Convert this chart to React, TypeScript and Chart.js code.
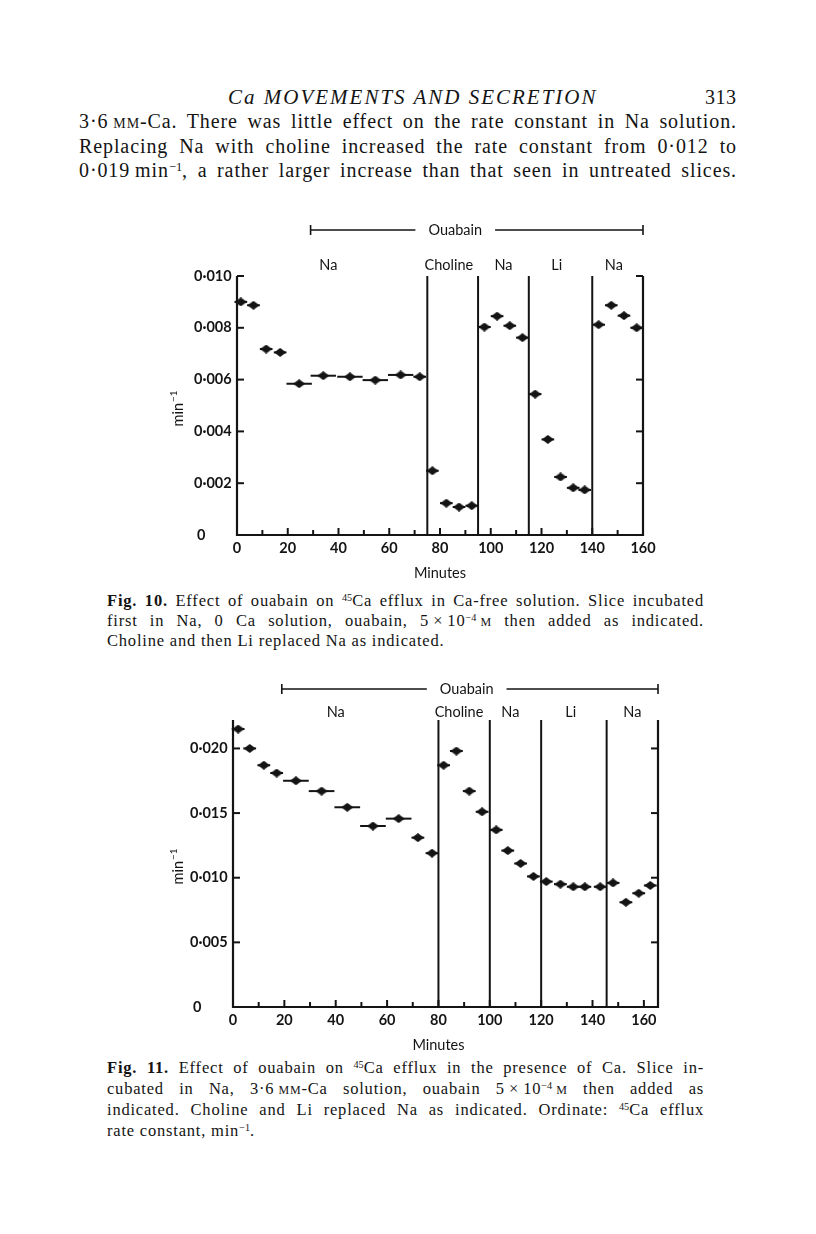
import React, { useEffect, useRef } from "react";
import { Chart, registerables } from "chart.js";

Chart.register(...registerables);

// ---------- Fig. 10 data (Ca-free solution) ----------
const fig10Minutes = [1.5, 6.5, 11.5, 17, 24.5, 34, 44.5, 54.5, 64.5, 72, 77, 82.5, 87.5, 92.5, 97.5, 102.5, 107.5, 112.5, 117.5, 122.5, 127.5, 132.5, 137, 142.5, 147.5, 152.5, 157.5];
const fig10Rate = [0.009, 0.00887, 0.00718, 0.00705, 0.00584, 0.00615, 0.00611, 0.00598, 0.00618, 0.00611, 0.00248, 0.00123, 0.00108, 0.00113, 0.00803, 0.00845, 0.00808, 0.00762, 0.00544, 0.00369, 0.00224, 0.00182, 0.00174, 0.00812, 0.00887, 0.00847, 0.008];
const fig10Period = [5, 5, 5, 5, 10, 10, 10, 10, 10, 5, 5, 5, 5, 5, 5, 5, 5, 5, 5, 5, 5, 5, 5, 5, 5, 5, 5];
const fig10Boundaries = [75, 95, 115, 140];
const fig10Regions = ["Na", "Choline", "Na", "Li", "Na"];
const fig10RegionCentres = [36, 83.5, 105, 126, 148.5];
const fig10YTicks = [0, 0.002, 0.004, 0.006, 0.008, 0.01];
const fig10YTickLabels = ["0", "0·002", "0·004", "0·006", "0·008", "0·010"];
const fig10RightTicks = [0.002, 0.004, 0.006, 0.008];
const fig10XLabels = [0, 20, 40, 60, 80, 100, 120, 140, 160];
const fig10XMinor = [10, 30, 50, 70, 90, 110, 130, 150];
const fig10Ouabain = [29, 160];
const fig10OuabainLabelAt = 86;

// ---------- Fig. 11 data (3.6 mM-Ca) ----------
const fig11Minutes = [2, 6.5, 12, 17, 24.5, 34.5, 44.5, 54.5, 64.5, 72, 77.5, 82, 87, 92, 97, 102.5, 107, 112, 117, 122, 127.5, 132.5, 137, 143, 148, 153, 158, 162.5];
const fig11Rate = [0.0215, 0.02, 0.0187, 0.0181, 0.0175, 0.0167, 0.01545, 0.014, 0.01457, 0.0131, 0.0119, 0.0187, 0.0198, 0.0167, 0.0151, 0.0137, 0.0121, 0.0111, 0.0101, 0.0097, 0.0095, 0.0093, 0.0093, 0.0093, 0.0096, 0.0081, 0.0088, 0.0094];
const fig11Period = [5, 5, 5, 5, 10, 10, 10, 10, 10, 5, 5, 5, 5, 5, 5, 5, 5, 5, 5, 5, 5, 5, 5, 5, 5, 5, 5, 5];
const fig11Boundaries = [80, 100, 120, 145.5];
const fig11Regions = ["Na", "Choline", "Na", "Li", "Na"];
const fig11RegionCentres = [40, 88, 108, 131.5, 155.5];
const fig11YTicks = [0, 0.005, 0.01, 0.015, 0.02];
const fig11YTickLabels = ["0", "0·005", "0·010", "0·015", "0·020"];
const fig11RightTicks = [0.005, 0.01, 0.015, 0.02];
const fig11XLabels = [0, 20, 40, 60, 80, 100, 120, 140, 160];
const fig11XMinor = [10, 30, 50, 70, 90, 110, 130, 150];
const fig11Ouabain = [19, 165.5];
const fig11OuabainLabelAt = 91;

const INK = "#141414";
const SANS = "Lato, 'Open Sans', sans-serif";

function makeDiamond(w: number, h: number) {
  const c = document.createElement("canvas");
  c.width = w;
  c.height = h;
  const g = c.getContext("2d")!;
  g.fillStyle = INK;
  g.beginPath();
  g.moveTo(w / 2, 0);
  g.lineTo(w, h / 2);
  g.lineTo(w / 2, h);
  g.lineTo(0, h / 2);
  g.closePath();
  g.fill();
  return c;
}

type PanelProps = {
  minutes: number[];
  rate: number[];
  period: number[];
  boundaries: number[];
  regions: string[];
  regionCentres: number[];
  yTicks: number[];
  yTickLabels: string[];
  rightTicks: number[];
  xLabels: number[];
  xMinor: number[];
  xMax: number;
  yMax: number;
  ouabain: number[];
  ouabainLabelAt: number;
  cornerTicks: boolean;
  left: number;
  top: number;
  width: number;
  height: number;
  padding: { left: number; right: number; top: number; bottom: number };
  regionDy: number;
  bracketDy: number;
  ylabelX: number;
};

function Panel(p: PanelProps) {
  const ref = useRef<HTMLCanvasElement>(null);
  useEffect(() => {
    const canvas = ref.current!;
    const framePlugin = {
      id: "frame",
      beforeDatasetsDraw(chart: any) {
        const ctx = chart.ctx as CanvasRenderingContext2D;
        const xs = chart.scales.x;
        const ys = chart.scales.y;
        const X = (v: number) => xs.getPixelForValue(v);
        const Y = (v: number) => ys.getPixelForValue(v);
        const x0 = X(0), x1 = X(p.xMax), y0 = Y(0), y1 = Y(p.yMax);
        ctx.save();
        ctx.strokeStyle = INK;
        ctx.fillStyle = INK;
        ctx.lineCap = "butt";
        // collection-period bars
        ctx.lineWidth = 2;
        p.minutes.forEach((m, i) => {
          const y = Y(p.rate[i]);
          ctx.beginPath();
          ctx.moveTo(X(m - p.period[i] / 2), y);
          ctx.lineTo(X(m + p.period[i] / 2), y);
          ctx.stroke();
        });
        // frame
        ctx.lineWidth = 2.2;
        ctx.beginPath();
        ctx.moveTo(x0, y1);
        ctx.lineTo(x0, y0);
        ctx.lineTo(x1, y0);
        ctx.lineTo(x1, y1);
        ctx.stroke();
        if (p.cornerTicks) {
          ctx.beginPath();
          ctx.moveTo(x0, y1);
          ctx.lineTo(x0 + 7, y1);
          ctx.moveTo(x1, y1);
          ctx.lineTo(x1 - 7, y1);
          ctx.stroke();
        }
        // solution-change lines
        ctx.lineWidth = 2;
        p.boundaries.forEach((b) => {
          ctx.beginPath();
          ctx.moveTo(X(b), y0);
          ctx.lineTo(X(b), y1);
          ctx.stroke();
        });
        // y ticks
        ctx.lineWidth = 2;
        p.yTicks.forEach((t) => {
          if (t === 0 || t === p.yMax) return;
          ctx.beginPath();
          ctx.moveTo(x0, Y(t));
          ctx.lineTo(x0 + 7, Y(t));
          ctx.stroke();
        });
        p.rightTicks.forEach((t) => {
          ctx.beginPath();
          ctx.moveTo(x1, Y(t));
          ctx.lineTo(x1 - 7, Y(t));
          ctx.stroke();
        });
        // x ticks
        p.xLabels.forEach((t) => {
          if (t === 0) return;
          ctx.beginPath();
          ctx.moveTo(X(t), y0);
          ctx.lineTo(X(t), y0 - 7);
          ctx.stroke();
        });
        p.xMinor.forEach((t) => {
          ctx.beginPath();
          ctx.moveTo(X(t), y0);
          ctx.lineTo(X(t), y0 - 5);
          ctx.stroke();
        });
        // tick labels
        ctx.font = `bold 14.5px ${SANS}`;
        ctx.textBaseline = "middle";
        ctx.textAlign = "left";
        p.yTicks.forEach((t, i) => {
          ctx.fillText(p.yTickLabels[i], x0 - 43 + (t === 0 ? 3 : 0), Y(t));
        });
        ctx.textAlign = "center";
        p.xLabels.forEach((t) => {
          ctx.fillText(String(t), X(t), y0 + 13);
        });
        ctx.font = `14.5px ${SANS}`;
        ctx.fillText("Minutes", X(80), y0 + 38);
        // y axis title, rotated
        ctx.save();
        ctx.translate(p.ylabelX, (y0 + y1) / 2 + 21);
        ctx.rotate(-Math.PI / 2);
        ctx.textAlign = "left";
        ctx.textBaseline = "alphabetic";
        ctx.font = `14.5px ${SANS}`;
        ctx.fillText("min", 0, 0);
        const w = ctx.measureText("min").width;
        ctx.font = `10px ${SANS}`;
        ctx.fillText("−1", w + 1, -6);
        ctx.restore();
        // region labels
        ctx.font = `14.5px ${SANS}`;
        ctx.textAlign = "center";
        ctx.textBaseline = "middle";
        p.regions.forEach((r, i) => {
          ctx.fillText(r, X(p.regionCentres[i]), y1 - p.regionDy);
        });
        // ouabain bracket
        const by = y1 - p.bracketDy;
        const bx0 = X(p.ouabain[0]);
        const bx1 = X(p.ouabain[1]);
        const lx = X(p.ouabainLabelAt);
        ctx.fillText("Ouabain", lx, by);
        const half = ctx.measureText("Ouabain").width / 2 + 13;
        ctx.lineWidth = 1.6;
        ctx.beginPath();
        ctx.moveTo(bx0, by);
        ctx.lineTo(lx - half, by);
        ctx.moveTo(lx + half, by);
        ctx.lineTo(bx1, by);
        ctx.moveTo(bx0, by - 5);
        ctx.lineTo(bx0, by + 5);
        ctx.moveTo(bx1, by - 5);
        ctx.lineTo(bx1, by + 5);
        ctx.stroke();
        ctx.restore();
      },
    };
    const chart = new Chart(canvas, {
      type: "scatter",
      data: {
        datasets: [
          {
            data: p.minutes.map((m, i) => ({ x: m, y: p.rate[i] })),
            pointStyle: makeDiamond(12, 9) as any,
            pointRadius: 5,
            showLine: false,
            clip: false as any,
          },
        ],
      },
      options: {
        responsive: false,
        animation: false,
        events: [],
        layout: { padding: p.padding },
        plugins: { legend: { display: false }, tooltip: { enabled: false } },
        scales: {
          x: { type: "linear", min: 0, max: p.xMax, display: false },
          y: { type: "linear", min: 0, max: p.yMax, display: false },
        },
      },
      plugins: [framePlugin],
    });
    return () => chart.destroy();
  }, []);
  return (
    <canvas
      ref={ref}
      width={p.width}
      height={p.height}
      style={{ position: "absolute", left: p.left, top: p.top, width: p.width, height: p.height }}
    />
  );
}

const serif = "'Liberation Serif', 'Times New Roman', serif";
const sup: React.CSSProperties = { fontSize: "0.62em", position: "relative", top: "-0.5em", letterSpacing: 0 };
const sc: React.CSSProperties = { fontVariant: "small-caps" };
const THIN = "\u2009";

function Line(props: { top: number; left: number; width: number; size: number; spacing: number; justify?: boolean; children: any; style?: React.CSSProperties }) {
  return (
    <div
      style={{
        position: "absolute",
        top: props.top,
        left: props.left,
        width: props.width,
        fontSize: props.size,
        lineHeight: `${props.size + 4}px`,
        letterSpacing: props.spacing,
        whiteSpace: "nowrap",
        textAlign: props.justify ? "justify" : "left",
        textAlignLast: props.justify ? "justify" : "left",
        fontFamily: serif,
        color: INK,
        ...props.style,
      }}
    >
      {props.children}
    </div>
  );
}

export default function App() {
  return (
    <div style={{ position: "absolute", left: 0, top: 0, width: 816, height: 1234, background: "#fff", overflow: "hidden" }}>
      <Line top={85} left={228} width={400} size={21} spacing={2} style={{ fontStyle: "italic" }}>
        Ca MOVEMENTS AND SECRETION
      </Line>
      <Line top={85} left={705} width={40} size={20} spacing={0.5}>313</Line>
      <Line top={109} left={79} width={658} size={20} spacing={0.9} justify>
        3·6{THIN}<span style={sc}>mm</span>-Ca. There was little effect on the rate constant in Na solution.
      </Line>
      <Line top={134} left={79} width={658} size={20} spacing={0.9} justify>
        Replacing Na with choline increased the rate constant from 0·012 to
      </Line>
      <Line top={158} left={79} width={658} size={20} spacing={0.9} justify>
        0·019{THIN}min<span style={sup}>−1</span>, a rather larger increase than that seen in untreated slices.
      </Line>

      <Panel
        minutes={fig10Minutes}
        rate={fig10Rate}
        period={fig10Period}
        boundaries={fig10Boundaries}
        regions={fig10Regions}
        regionCentres={fig10RegionCentres}
        yTicks={fig10YTicks}
        yTickLabels={fig10YTickLabels}
        rightTicks={fig10RightTicks}
        xLabels={fig10XLabels}
        xMinor={fig10XMinor}
        xMax={160}
        yMax={0.01}
        ouabain={fig10Ouabain}
        ouabainLabelAt={fig10OuabainLabelAt}
        cornerTicks={true}
        left={150}
        top={215}
        width={530}
        height={370}
        padding={{ left: 87, right: 37, top: 61, bottom: 50 }}
        regionDy={11}
        bracketDy={46}
        ylabelX={33}
      />

      <Line top={591} left={107} width={597} size={16.5} spacing={0.8} justify>
        <b>Fig. 10.</b> Effect of ouabain on <span style={sup}>45</span>Ca efflux in Ca-free solution. Slice incubated
      </Line>
      <Line top={611} left={107} width={597} size={16.5} spacing={0.8} justify>
        first in Na, 0 Ca solution, ouabain, 5{THIN}×{THIN}10<span style={sup}>−4</span>{THIN}<span style={sc}>m</span> then added as indicated.
      </Line>
      <Line top={631} left={107} width={597} size={16.5} spacing={0.8}>
        Choline and then Li replaced Na as indicated.
      </Line>

      <Panel
        minutes={fig11Minutes}
        rate={fig11Rate}
        period={fig11Period}
        boundaries={fig11Boundaries}
        regions={fig11Regions}
        regionCentres={fig11RegionCentres}
        yTicks={fig11YTicks}
        yTickLabels={fig11YTickLabels}
        rightTicks={fig11RightTicks}
        xLabels={fig11XLabels}
        xMinor={fig11XMinor}
        xMax={165.5}
        yMax={0.0222}
        ouabain={fig11Ouabain}
        ouabainLabelAt={fig11OuabainLabelAt}
        cornerTicks={false}
        left={150}
        top={670}
        width={530}
        height={380}
        padding={{ left: 83, right: 22, top: 50, bottom: 43 }}
        regionDy={8}
        bracketDy={31}
        ylabelX={33}
      />

      <Line top={1058} left={107} width={597} size={16.5} spacing={0.8} justify>
        <b>Fig. 11.</b> Effect of ouabain on <span style={sup}>45</span>Ca efflux in the presence of Ca. Slice in-
      </Line>
      <Line top={1079} left={107} width={597} size={16.5} spacing={0.8} justify>
        cubated in Na, 3·6{THIN}<span style={sc}>mm</span>-Ca solution, ouabain 5{THIN}×{THIN}10<span style={sup}>−4</span>{THIN}<span style={sc}>m</span> then added as
      </Line>
      <Line top={1100} left={107} width={597} size={16.5} spacing={0.8} justify>
        indicated. Choline and Li replaced Na as indicated. Ordinate: <span style={sup}>45</span>Ca efflux
      </Line>
      <Line top={1121} left={107} width={597} size={16.5} spacing={0.8}>
        rate constant, min<span style={sup}>−1</span>.
      </Line>
    </div>
  );
}
